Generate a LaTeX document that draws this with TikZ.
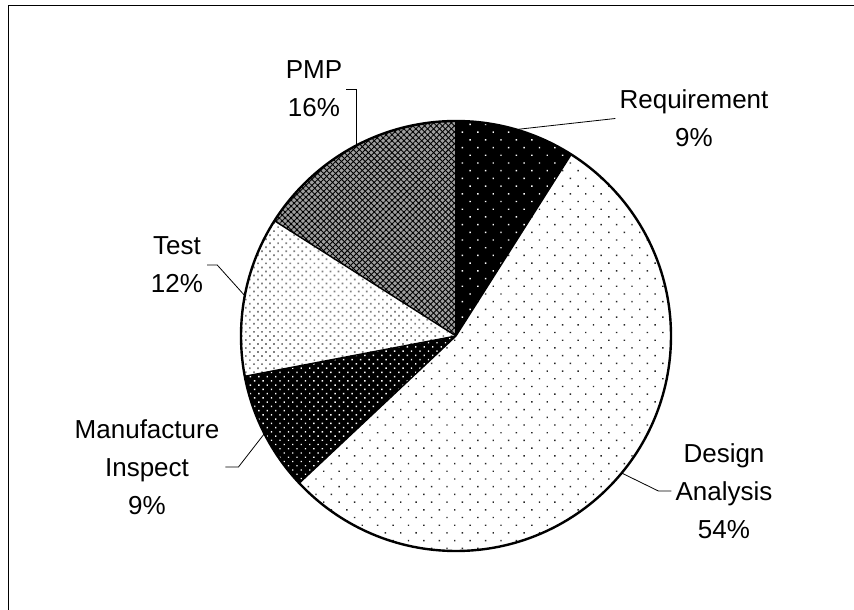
\documentclass[tikz,border=0pt]{standalone}
\usepackage{fontspec}
\setmainfont{Liberation Sans}
\usetikzlibrary{calc,patterns.meta}

\begin{document}
\begin{tikzpicture}[x=1pt,y=1pt,
	lbl/.style={align=center,inner sep=4pt,font=\fontsize{26}{38}\selectfont},
	leader/.style={draw=black,line width=0.8pt},
	edge/.style={draw=black,line width=1.4pt,line join=round}]
				\useasboundingbox (0,0) rectangle (854,610);
				\draw [line width=1.8pt] (8.5,-2) -- (8.5,604.5) -- (856,604.5);
			    \coordinate (c) at (456,274);
			    \coordinate (s_0) at ($(c)+(90:215pt)$);
			    \coordinate (s_1) at ($(c)+(57.6:215pt)$);
			    \coordinate (s_2) at ($(c)+(-136.8:215pt)$);
			    \coordinate (s_3) at ($(c)+(-169.2:215pt)$);
			    \coordinate (s_4) at ($(c)+(-212.4:215pt)$);
			    \coordinate (req_p) at ($(c)+(73.8:215pt)$);
			    \coordinate (des_p) at ($(c)+(-39.6:215pt)$);
			    \coordinate (man_p) at ($(c)+(-153:215pt)$);
			    \coordinate (tst_p) at ($(c)+(-190.8:215pt)$);
			    \coordinate (pmp_p) at ($(c)+(117.5:215pt)$);
				\fill [black] (c) -- (s_0) arc [start angle=90, end angle=57.6, radius=215pt] -- cycle;
				\fill [pattern={Dots[radius=1pt,distance=10.9pt,angle=45]}, pattern color=white] (c) -- (s_0) arc [start angle=90, end angle=57.6, radius=215pt] -- cycle;
				\fill [white] (c) -- (s_1) arc [start angle=57.6, end angle=-136.8, radius=215pt] -- cycle;
				\fill [pattern={Dots[radius=1pt,distance=10.9pt,angle=45]}, pattern color=black!85] (c) -- (s_1) arc [start angle=57.6, end angle=-136.8, radius=215pt] -- cycle;
				\fill [black] (c) -- (s_2) arc [start angle=-136.8, end angle=-169.2, radius=215pt] -- cycle;
				\fill [pattern={Dots[radius=1pt,distance=6pt,angle=45]}, pattern color=white] (c) -- (s_2) arc [start angle=-136.8, end angle=-169.2, radius=215pt] -- cycle;
				\fill [white] (c) -- (s_3) arc [start angle=-169.2, end angle=-212.4, radius=215pt] -- cycle;
				\fill [pattern={Dots[radius=1.2pt,distance=5.7pt,angle=45]}, pattern color=gray] (c) -- (s_3) arc [start angle=-169.2, end angle=-212.4, radius=215pt] -- cycle;
				\fill [gray!75] (c) -- (s_4) arc [start angle=-212.4, end angle=-270, radius=215pt] -- cycle;
				\fill [pattern={Lines[angle=45,distance=4.2pt,line width=0.9pt]}, pattern color=black] (c) -- (s_4) arc [start angle=-212.4, end angle=-270, radius=215pt] -- cycle;
				\fill [pattern={Lines[angle=-45,distance=4.2pt,line width=0.9pt]}, pattern color=black] (c) -- (s_4) arc [start angle=-212.4, end angle=-270, radius=215pt] -- cycle;
				\draw [edge] (c) -- (s_0);
				\draw [edge] (c) -- (s_1);
				\draw [edge] (c) -- (s_2);
				\draw [edge] (c) -- (s_3);
				\draw [edge] (c) -- (s_4);
				\draw [line width=2.4pt] (c) circle [radius=215pt];
				\node [lbl] (req) at (694,491.5) {Requirement\\9\%};
				\node [lbl] (des) at (724,119) {Design\\Analysis\\54\%};
				\node [lbl] (man) at (147,143) {Manufacture\\Inspect\\9\%};
				\node [lbl] (tst) at (177,345) {Test\\12\%};
				\node [lbl] (pmp) at (314,521) {PMP\\16\%};
				\draw [leader] (req.west) -- (req_p);
				\draw [leader] (des.west) -- ++(-13,0) -- (des_p);
				\draw [leader] ($(man.east)+(2,0)$) -- ++(13,0) -- (man_p);
				\draw [leader] (tst.east) -- ++(10,0) -- (tst_p);
				\draw [leader] (pmp.east) -- (pmp.east -| pmp_p) -- (pmp_p);
			\end{tikzpicture}
\end{document}
